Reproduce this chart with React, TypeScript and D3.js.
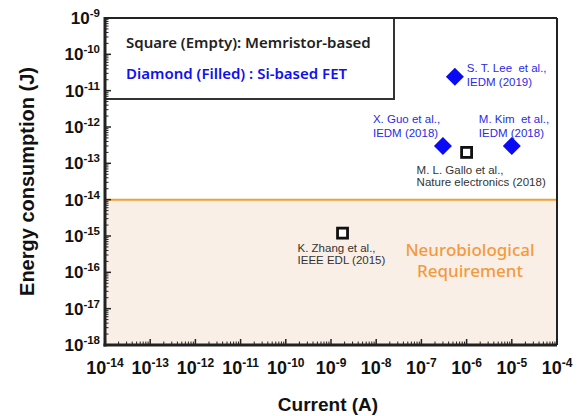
import React from "react";
import * as d3 from "d3";

const xExponents = [-14, -13, -12, -11, -10, -9, -8, -7, -6, -5, -4];
const yExponents = [-18, -17, -16, -15, -14, -13, -12, -11, -10, -9];

const fetNames = ["S. T. Lee  et al.,", "X. Guo et al.,", "M. Kim  et al.,"];
const fetVenues = ["IEDM (2019)", "IEDM (2018)", "IEDM (2018)"];
const fetCurrent = [5.5e-7, 3e-7, 1e-5];
const fetEnergy = [2.4e-11, 3e-13, 3e-13];

const memNames = ["M. L. Gallo et al.,", "K. Zhang et al.,"];
const memVenues = ["Nature electronics (2018)", "IEEE EDL (2015)"];
const memCurrent = [1e-6, 1.8e-9];
const memEnergy = [2e-13, 1.2e-15];

const requirementEnergy = 1e-14;

const fetLabelOffsets: [number, number][] = [[12, -5], [-70, -23], [-33, -23]];
const memLabelOffsets: [number, number][] = [[-50, 22], [-45, 19]];

const W = 580, H = 416;
const left = 105, right = 557, top = 18, bottom = 345;

export default function App() {
  const x = d3.scaleLog().domain([1e-14, 1e-4]).range([left, right]);
  const y = d3.scaleLog().domain([1e-18, 1e-9]).range([bottom, top]);
  const reqY = y(requirementEnergy);

  const minorX: number[] = [];
  xExponents.slice(0, -1).forEach((e) => {
    for (let k = 2; k <= 9; k++) minorX.push(k * Math.pow(10, e));
  });
  const minorY: number[] = [];
  yExponents.slice(0, -1).forEach((e) => {
    for (let k = 2; k <= 9; k++) minorY.push(k * Math.pow(10, e));
  });

  const diamondPath = d3.line()([[0, -9], [9, 0], [0, 9], [-9, 0]]) + "Z";
  const labelFont = "Arial, 'Liberation Sans', sans-serif";

  return (
    <svg width={W} height={H} style={{ position: "absolute", left: 0, top: 0, background: "#fff" }}>
      {/* requirement region */}
      <rect x={left} y={reqY} width={right - left} height={bottom - reqY} fill="#faefe6" />
      <line x1={left} x2={right} y1={reqY} y2={reqY} stroke="#f0a030" strokeWidth={2} />

      {/* legend box */}
      <rect x={left} y={top} width={394 - left} height={99 - top} fill="#fff" stroke="#333" strokeWidth={2} />
      <text x={126} y={48} fontFamily="'Noto Sans', sans-serif" fontWeight={600} fontSize={15} fill="#222">
        Square (Empty): Memristor-based
      </text>
      <text x={126} y={79} fontFamily="'Noto Sans', sans-serif" fontWeight={600} fontSize={15} fill="#1010f0">
        Diamond (Filled) : Si-based FET
      </text>

      {/* frame */}
      <line x1={left} x2={right} y1={top} y2={top} stroke="#222" strokeWidth={2} />
      <line x1={right} x2={right} y1={top} y2={bottom} stroke="#222" strokeWidth={2} />
      <line x1={left} x2={left} y1={top - 1} y2={bottom + 1.5} stroke="#222" strokeWidth={3} />
      <line x1={left - 1.5} x2={right} y1={bottom} y2={bottom} stroke="#222" strokeWidth={3} />

      {/* x ticks */}
      {xExponents.map((e) => (
        <line key={"xM" + e} x1={x(Math.pow(10, e))} x2={x(Math.pow(10, e))} y1={bottom} y2={bottom - 6} stroke="#222" strokeWidth={1.5} />
      ))}
      {minorX.map((v, i) => (
        <line key={"xm" + i} x1={x(v)} x2={x(v)} y1={bottom} y2={bottom - 3.5} stroke="#222" strokeWidth={1} />
      ))}
      {/* y ticks */}
      {yExponents.map((e) => (
        <line key={"yM" + e} x1={left} x2={left + 6} y1={y(Math.pow(10, e))} y2={y(Math.pow(10, e))} stroke="#222" strokeWidth={1.5} />
      ))}
      {minorY.map((v, i) => (
        <line key={"ym" + i} x1={left} x2={left + 3.5} y1={y(v)} y2={y(v)} stroke="#222" strokeWidth={1} />
      ))}

      {/* x tick labels */}
      {xExponents.map((e) => (
        <text key={"xl" + e} x={x(Math.pow(10, e))} y={374} textAnchor="middle" fontFamily={labelFont} fontWeight="bold" fontSize={18} fill="#111">
          10<tspan fontSize={12} dy={-7}>{e}</tspan>
        </text>
      ))}
      {/* y tick labels */}
      {yExponents.map((e) => (
        <text key={"yl" + e} x={100} y={y(Math.pow(10, e)) + 6} textAnchor="end" fontFamily={labelFont} fontWeight="bold" fontSize={17} fill="#111">
          10<tspan fontSize={11.5} dy={-7}>{e}</tspan>
        </text>
      ))}

      {/* axis titles */}
      <text x={328} y={411} textAnchor="middle" fontFamily={labelFont} fontWeight="bold" fontSize={19} fill="#111">
        Current (A)
      </text>
      <text transform={`translate(34,${(top + bottom) / 2}) rotate(-90)`} textAnchor="middle" fontFamily={labelFont} fontWeight="bold" fontSize={20} fill="#111">
        Energy consumption (J)
      </text>

      {/* requirement label */}
      <text x={470} y={256} textAnchor="middle" fontFamily="'Noto Sans', sans-serif" fontWeight={500} fontSize={17} fill="#f39a3e">
        Neurobiological
      </text>
      <text x={470} y={277} textAnchor="middle" fontFamily="'Noto Sans', sans-serif" fontWeight={500} fontSize={17} fill="#f39a3e">
        Requirement
      </text>

      {/* FET diamonds */}
      {fetCurrent.map((c, i) => {
        const px = x(c), py = y(fetEnergy[i]);
        const [dx, dy] = fetLabelOffsets[i];
        return (
          <g key={"fet" + i}>
            <path d={diamondPath} transform={`translate(${px},${py})`} fill="#0a0af5" />
            <text x={px + dx} y={py + dy} fontFamily={labelFont} fontSize={11.5} fill="#2a2ae8" style={{ whiteSpace: "pre" }}>
              {fetNames[i]}
            </text>
            <text x={px + dx} y={py + dy + 14} fontFamily={labelFont} fontSize={11.5} fill="#2a2ae8">
              {fetVenues[i]}
            </text>
          </g>
        );
      })}

      {/* memristor squares */}
      {memCurrent.map((c, i) => {
        const px = x(c), py = y(memEnergy[i]);
        const [dx, dy] = memLabelOffsets[i];
        return (
          <g key={"mem" + i}>
            <rect x={px - 5} y={py - 5} width={10} height={10} fill="#fff" stroke="#111" strokeWidth={2.8} />
            <text x={px + dx} y={py + dy} fontFamily={labelFont} fontSize={11.5} fill="#333">
              {memNames[i]}
            </text>
            <text x={px + dx} y={py + dy + 11.5} fontFamily={labelFont} fontSize={11.5} fill="#333">
              {memVenues[i]}
            </text>
          </g>
        );
      })}
    </svg>
  );
}
